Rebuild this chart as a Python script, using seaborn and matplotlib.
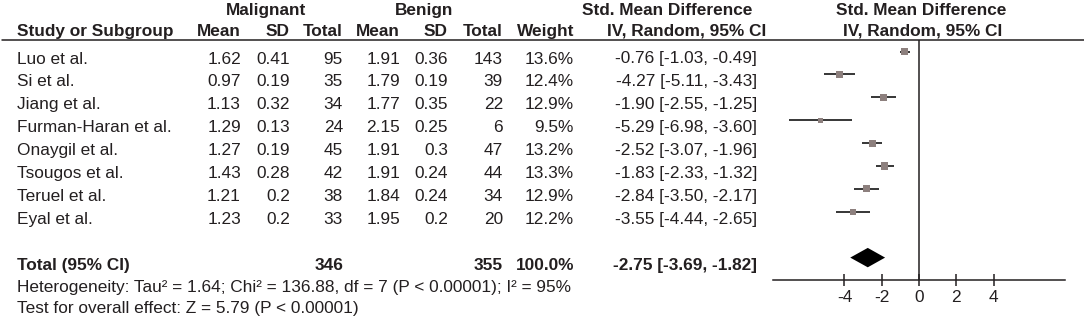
import numpy as np
import pandas as pd
import matplotlib
matplotlib.use("Agg")
import matplotlib.pyplot as plt
import seaborn as sns

# data
studies = ["Luo et al.", "Si et al.", "Jiang et al.", "Furman-Haran et al.",
           "Onaygil et al.", "Tsougos et al.", "Teruel et al.", "Eyal et al."]
mal_mean = [1.62, 0.97, 1.13, 1.29, 1.27, 1.43, 1.21, 1.23]
mal_sd = [0.41, 0.19, 0.32, 0.13, 0.19, 0.28, 0.2, 0.2]
mal_n = [95, 35, 34, 24, 45, 42, 38, 33]
ben_mean = [1.91, 1.79, 1.77, 2.15, 1.91, 1.91, 1.84, 1.95]
ben_sd = [0.36, 0.19, 0.35, 0.25, 0.3, 0.24, 0.24, 0.2]
ben_n = [143, 39, 22, 6, 47, 44, 34, 20]
weight = [13.6, 12.4, 12.9, 9.5, 13.2, 13.3, 12.9, 12.2]
smd = [-0.76, -4.27, -1.90, -5.29, -2.52, -1.83, -2.84, -3.55]
ci_lo = [-1.03, -5.11, -2.55, -6.98, -3.07, -2.33, -3.50, -4.44]
ci_hi = [-0.49, -3.43, -1.25, -3.60, -1.96, -1.32, -2.17, -2.65]
total_smd, total_lo, total_hi = -2.75, -3.69, -1.82
total_mal, total_ben, total_weight = 346, 355, 100.0
heterogeneity = "Heterogeneity: Tau² = 1.64; Chi² = 136.88, df = 7 (P < 0.00001); I² = 95%"
overall = "Test for overall effect: Z = 5.79 (P < 0.00001)"
xticks = [-4, -2, 0, 2, 4]

W, H = 1084, 321
FS = 12.4
INK = "#231f20"
SQ = "#8d807e"
ROW0, DY, BASE = 51.5, 22.9, 12  # row centre of first study, row step, text baseline offset

sns.set_theme(style="white")
plt.rcParams["font.family"] = ["Liberation Sans", "DejaVu Sans"]

df = pd.DataFrame({"study": studies, "smd": smd, "lo": ci_lo, "hi": ci_hi, "weight": weight})
df["ypos"] = ROW0 + DY * np.arange(len(df))
total_y = ROW0 + DY * (len(df) + 1)

fig = plt.figure(figsize=(W / 100, H / 100), dpi=100)

# text layer in pixel coords
tx = fig.add_axes([0, 0, 1, 1])
tx.set_xlim(0, W)
tx.set_ylim(H, 0)
tx.axis("off")


def put(x, y, s, ha="right", bold=False):
    tx.text(x, y, s, ha=ha, va="baseline", fontsize=FS, color=INK,
            fontweight="bold" if bold else "normal")


# headers
put(266, 15, "Malignant", ha="center", bold=True)
put(424, 15, "Benign", ha="center", bold=True)
put(667, 15, "Std. Mean Difference", ha="center", bold=True)
put(921, 15, "Std. Mean Difference", ha="center", bold=True)
put(17, 36, "Study or Subgroup", ha="left", bold=True)
for x, s in [(241, "Mean"), (290, "SD"), (343, "Total"), (400, "Mean"),
             (448, "SD"), (503, "Total"), (574, "Weight"), (766, "IV, Random, 95% CI")]:
    put(x, 36, s, bold=True)
put(923, 36, "IV, Random, 95% CI", ha="center", bold=True)
tx.plot([2, W], [39.5, 39.5], color=INK, lw=1.1)

# study rows
for i, r in df.iterrows():
    y = r["ypos"] + BASE
    put(17, y, r["study"], ha="left")
    put(241, y, f"{mal_mean[i]:g}")
    put(290, y, f"{mal_sd[i]:g}")
    put(343, y, str(mal_n[i]))
    put(400, y, f"{ben_mean[i]:g}")
    put(448, y, f"{ben_sd[i]:g}")
    put(503, y, str(ben_n[i]))
    put(574, y, f"{weight[i]:.1f}%")
    put(757, y, f"{smd[i]:.2f} [{ci_lo[i]:.2f}, {ci_hi[i]:.2f}]")

# total row + footnotes
ty = total_y + BASE
put(17, ty, "Total (95% CI)", ha="left", bold=True)
put(343, ty, str(total_mal), bold=True)
put(503, ty, str(total_ben), bold=True)
put(574, ty, f"{total_weight:.1f}%", bold=True)
put(757, ty, f"{total_smd:.2f} [{total_lo:.2f}, {total_hi:.2f}]", bold=True)
put(17, 291.7, heterogeneity, ha="left")
put(17, 313.3, overall, ha="left")

# forest panel: x in SMD units, y in pixel rows
unit = 18.63
half = 7.85
x0 = 919 - half * unit
fx = fig.add_axes([x0 / W, (H - 280) / H, 2 * half * unit / W, (280 - 39.5) / H])
fx.patch.set_alpha(0)
fx.set_xlim(-half, half)
fx.set_ylim(280, 39.5)

fx.hlines(df["ypos"], df["lo"], df["hi"], color="black", lw=1.1, zorder=2)
sns.scatterplot(data=df, x="smd", y="ypos", size="weight", sizes=(13, 27), marker="s",
                color=SQ, linewidth=0, legend=False, ax=fx, zorder=3)
fx.fill([total_lo, total_smd, total_hi, total_smd],
        [total_y, total_y - 9.7, total_y, total_y + 9.7], color="black", lw=0, zorder=3)
fx.axvline(0, color=INK, lw=1.1, zorder=1)

for side in ["top", "left", "right"]:
    fx.spines[side].set_visible(False)
fx.spines["bottom"].set_color(INK)
fx.spines["bottom"].set_linewidth(1.1)
fx.set_xticks(xticks)
fx.set_xticklabels([str(t) for t in xticks])
fx.set_yticks([])
fx.tick_params(axis="x", direction="inout", length=9, width=1.1, pad=3,
               labelsize=FS, colors=INK, bottom=True)
fx.set_xlabel("")
fx.set_ylabel("")

fig.savefig("out.png", dpi=100)
